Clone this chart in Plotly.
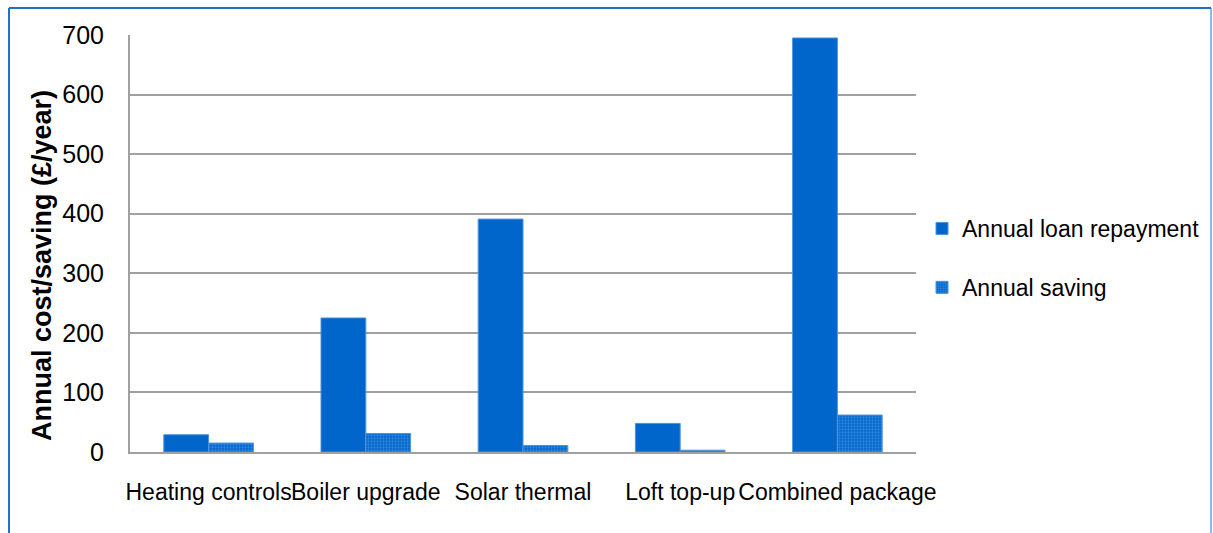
import plotly.graph_objects as go

# Measures and their annual figures (£/year)
categories = ["Heating controls", "Boiler upgrade", "Solar thermal", "Loft top-up", "Combined package"]
loan_repayment = [29, 225, 391, 48, 695]
annual_saving = [15, 31, 11, 3, 62]
y_ticks = [0, 100, 200, 300, 400, 500, 600, 700]

BLUE = "#0066CC"
FONT = "Liberation Sans, Arial, sans-serif"

fig = go.Figure()
fig.add_trace(go.Bar(
    name="Annual loan repayment", legendgroup="loan",
    x=categories, y=loan_repayment,
    marker=dict(color=BLUE, line=dict(color="#4d94db", width=1)),
))
fig.add_trace(go.Bar(
    name="Annual saving", legendgroup="saving",
    x=categories, y=annual_saving,
    marker=dict(
        color=BLUE,
        line=dict(color="#4d94db", width=1),
        pattern=dict(shape=".", fgcolor="#5ea3ea", bgcolor=BLUE, size=3, solidity=0.45),
    ),
))

L, R, T, B = 130, 297, 35, 81
W, H = 1213, 533
pw, ph = W - L - R, H - T - B

def px_x(x):
    return (x - L) / pw

def px_y(y):
    return (H - B - y) / ph

# Blue outer frame around the chart area
frame = dict(color="#1f72c8", width=2)
fig.add_shape(type="line", xref="paper", yref="paper",
              x0=px_x(9), x1=px_x(9), y0=px_y(560), y1=px_y(8), line=frame)
fig.add_shape(type="line", xref="paper", yref="paper",
              x0=px_x(9), x1=px_x(1211), y0=px_y(8), y1=px_y(8), line=frame)
fig.add_shape(type="line", xref="paper", yref="paper",
              x0=px_x(1211), x1=px_x(1211), y0=px_y(8), y1=px_y(560),
              line=dict(color="#1f72c8", width=1))

# Vertical value-axis title
fig.add_annotation(
    text="<b>Annual cost/saving (£/year)</b>", textangle=-90,
    xref="paper", yref="paper", x=px_x(42), y=px_y(266),
    xanchor="center", yanchor="middle", showarrow=False,
    font=dict(size=27, family=FONT, color="black"),
)

fig.update_layout(
    width=W, height=H,
    margin=dict(l=L, r=R, t=T, b=B, autoexpand=False),
    paper_bgcolor="white", plot_bgcolor="white",
    barmode="group", bargap=0.43, bargroupgap=0,
    font=dict(family=FONT, size=22, color="black"),
    legend=dict(
        x=px_x(922), y=px_y(207), xanchor="left", yanchor="top",
        font=dict(size=23), tracegroupgap=26, itemwidth=30,
        traceorder="grouped", bgcolor="rgba(0,0,0,0)",
    ),
    xaxis=dict(
        showgrid=False, showline=True, linecolor="#a0a0a0", linewidth=2,
        ticks="", tickangle=0, ticklabelstandoff=18,
        tickfont=dict(size=23),
    ),
    yaxis=dict(
        range=[0, 700], tickvals=y_ticks,
        showgrid=True, gridcolor="#a0a0a0", gridwidth=2,
        showline=True, linecolor="#a0a0a0", linewidth=2,
        zeroline=False, ticks="", ticklabelstandoff=19,
        tickfont=dict(size=25),
    ),
)

fig.write_html("out.html")
